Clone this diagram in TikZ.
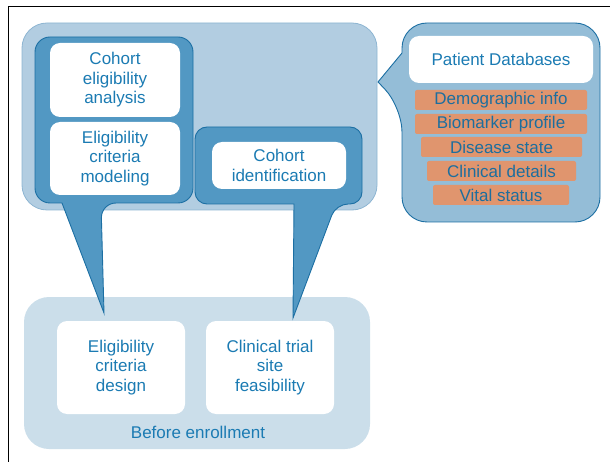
\documentclass[tikz,border=0pt]{standalone}
\usepackage{fontspec}
\setmainfont{Liberation Sans}

\definecolor{txtblue}{HTML}{1B7BB3}
\definecolor{rowtxt}{HTML}{1D6E9E}
\definecolor{topfill}{HTML}{B2CDE1}
\definecolor{topline}{HTML}{8DB5D2}
\definecolor{lowfill}{HTML}{CBDEEA}
\definecolor{darkfill}{HTML}{5298C3}
\definecolor{darkline}{HTML}{1C6FA3}
\definecolor{dbfill}{HTML}{94BDD7}
\definecolor{rowfill}{HTML}{E0956E}

\begin{document}
\begin{tikzpicture}[x=1pt,y=-1pt,
  every node/.style={text=txtblue, font=\fontsize{17}{19.5}\selectfont},
  region/.style={rounded corners=25, inner sep=0pt},
  whitebox/.style={fill=white, rounded corners=10, align=center, inner sep=0pt},
  rowbox/.style={fill=rowfill, rounded corners=2, minimum height=20pt, inner sep=0pt, text=rowtxt},
  darkbox/.style={fill=darkfill, draw=darkline, line width=0.9pt},
  dbpanel/.style={fill=dbfill, draw=darkline, line width=0.9pt}]
\useasboundingbox (0,0) rectangle (610,462);
\draw[line width=1pt] (8,462) -- (8,7) -- (610,7);

% regions
\node[region, fill=lowfill, minimum width=346pt, minimum height=152pt] (before) at (197,373) {};
\node[region, fill=topfill, draw=topline, line width=0.8pt, minimum width=355pt, minimum height=187pt] (during) at (199.5,116.5) {};

\coordinate (ltip) at (104,313);
\coordinate (rtip) at (293,318);
\coordinate (dbtip) at (378,82);

% callouts
\draw[darkbox, rounded corners=15] (35,120) -- (35,37) -- (193,37) -- (193,203) -- (101,203) [sharp corners] -- (ltip) -- (62,203) [rounded corners=15] -- (35,203) -- cycle;
\draw[darkbox, rounded corners=12] (195,160) -- (195,127) -- (362,127) -- (362,204) -- (336,204) [sharp corners] -- (rtip) -- (294,204) [rounded corners=12] -- (195,204) -- cycle;
\draw[dbpanel, rounded corners=25] (500,23) -- (600,23) -- (600,222) -- (402,222) -- (402,107) [sharp corners] -- (dbtip) -- (402,53) [rounded corners=25] -- (402,23) -- cycle;

% boxes
\node[whitebox, minimum width=130pt, minimum height=74pt] (analysis) at (115,80) {Cohort\\eligibility\\analysis};
\node[whitebox, minimum width=130pt, minimum height=73pt] (modeling) at (115,158.5) {Eligibility\\criteria\\modeling};
\node[whitebox, minimum width=134pt, minimum height=47pt] (ident) at (279,165.5) {Cohort\\identification};
\node[whitebox, minimum width=184pt, minimum height=47pt] (db) at (501,59.5) {Patient Databases};
\node[whitebox, minimum width=128pt, minimum height=93pt] (design) at (121,367.5) {Eligibility\\criteria\\design};
\node[whitebox, minimum width=128pt, minimum height=93pt] (feas) at (270,367.5) {Clinical trial\\site\\feasibility};
\node (enroll) at (198,432) {Before enrollment};

% database rows
\node[rowbox, minimum width=172pt] (demo) at (501,100) {Demographic info};
\node[rowbox, minimum width=172pt] (bio) at (501,124) {Biomarker profile};
\node[rowbox, minimum width=161pt] (state) at (501.5,147) {Disease state};
\node[rowbox, minimum width=149pt] (clin) at (501.5,171) {Clinical details};
\node[rowbox, minimum width=136pt] (vital) at (501,195) {Vital status};
\end{tikzpicture}
\end{document}
